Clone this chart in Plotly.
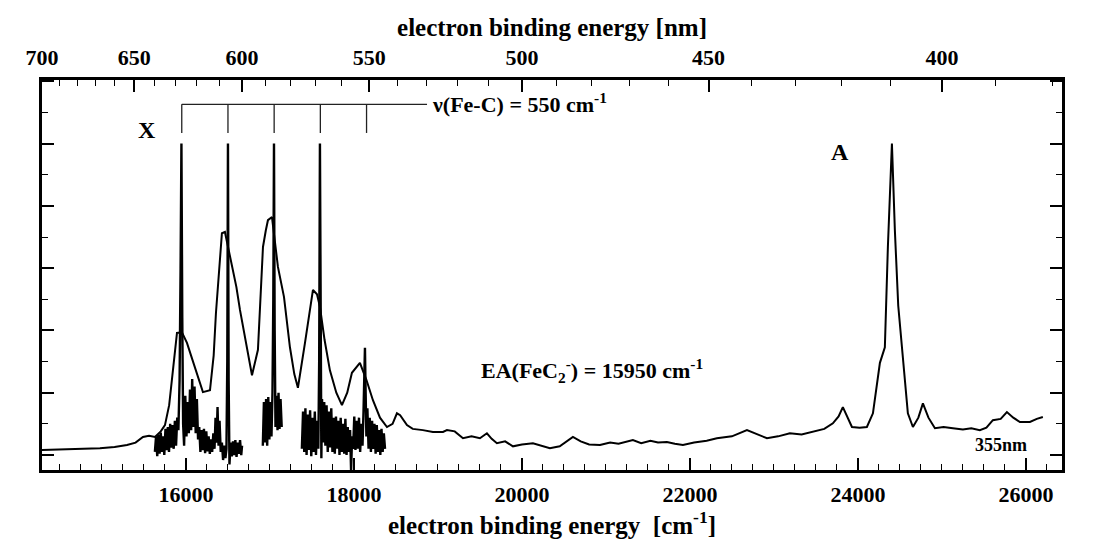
import plotly.graph_objects as go

# ---------------- data ----------------
# broad 355 nm photoelectron spectrum: binding energy [cm^-1], intensity [arb.]
broad_x = [14282, 14536, 14760, 14976, 15150, 15298, 15400, 15488, 15560, 15631,
           15700, 15750, 15800, 15833, 15870, 15893, 15952, 16012, 16060, 16107,
           16160, 16202, 16286, 16330, 16357, 16400, 16428, 16464, 16500, 16548,
           16600, 16643, 16720, 16786, 16857, 16917, 16950, 16976, 17024, 17060,
           17095, 17167, 17238, 17290, 17333, 17417, 17470, 17512, 17560, 17595,
           17650, 17714, 17790, 17857, 17920, 17976, 18071, 18150, 18226, 18310,
           18393, 18460, 18512, 18550, 18631, 18700, 18821, 18940, 19060, 19107,
           19200, 19298, 19400, 19500, 19583, 19640, 19702, 19800, 19893, 20000,
           20131, 20240, 20333, 20450, 20607, 20700, 20800, 20929, 21050, 21150,
           21321, 21420, 21530, 21620, 21726, 21820, 21917, 22050, 22200, 22321,
           22500, 22679, 22800, 22917, 23050, 23190, 23330, 23464, 23600, 23702,
           23770, 23821, 23870, 23929, 24020, 24107, 24179, 24262, 24321, 24357,
           24405, 24440, 24480, 24524, 24595, 24655, 24720, 24774, 24840, 24917,
           25020, 25131, 25250, 25350, 25452, 25530, 25607, 25700, 25774, 25850,
           25929, 26048, 26130, 26202]
broad_y = [0.08, 0.09, 0.10, 0.11, 0.13, 0.16, 0.20, 0.29, 0.31, 0.29,
           0.38, 0.48, 0.80, 1.20, 1.60, 1.96, 1.97, 1.80, 1.60, 1.41,
           1.20, 1.01, 1.04, 1.60, 2.28, 3.00, 3.56, 3.58, 3.35, 3.02,
           2.70, 2.33, 1.75, 1.28, 1.69, 3.34, 3.60, 3.77, 3.82, 3.45,
           3.02, 2.54, 1.73, 1.30, 1.08, 1.80, 2.30, 2.65, 2.58, 2.38,
           1.85, 1.36, 1.00, 0.80, 1.00, 1.32, 1.48, 1.20, 0.88, 0.60,
           0.45, 0.50, 0.67, 0.64, 0.48, 0.42, 0.40, 0.37, 0.37, 0.40,
           0.38, 0.27, 0.30, 0.27, 0.35, 0.26, 0.19, 0.22, 0.14, 0.17,
           0.19, 0.15, 0.11, 0.14, 0.29, 0.22, 0.17, 0.16, 0.20, 0.18,
           0.24, 0.19, 0.23, 0.20, 0.21, 0.18, 0.16, 0.20, 0.23, 0.27,
           0.30, 0.40, 0.33, 0.27, 0.30, 0.35, 0.33, 0.37, 0.42, 0.51,
           0.62, 0.77, 0.62, 0.45, 0.44, 0.45, 0.67, 1.48, 1.73, 3.34,
           5.00, 3.61, 2.40, 1.73, 0.67, 0.45, 0.60, 0.83, 0.60, 0.43,
           0.45, 0.43, 0.41, 0.43, 0.40, 0.44, 0.56, 0.58, 0.69, 0.60,
           0.53, 0.53, 0.58, 0.61]

# high-resolution spectra (three scan windows)
hr1_x = [15630, 15644, 15658, 15672, 15686, 15700, 15714, 15728, 15742, 15756,
         15770, 15784, 15798, 15812, 15826, 15840, 15854, 15868, 15882, 15896,
         15910, 15924, 15936, 15946, 15956, 15966, 15978, 15992, 16006, 16020,
         16034, 16048, 16062, 16074, 16088, 16102, 16116, 16130, 16144, 16158,
         16172, 16186, 16200, 16214, 16228, 16242, 16256, 16270, 16284, 16298,
         16312, 16326, 16340, 16352, 16364, 16376, 16388, 16400, 16414, 16428,
         16442, 16456, 16470, 16482, 16492, 16500, 16508, 16518, 16532, 16546,
         16560, 16574, 16588, 16602, 16616, 16630, 16644, 16658, 16668]
hr1_y = [0.05, 0.30, -0.02, 0.33, 0.02, 0.36, 0.05, 0.30, 0.00, 0.42,
         0.08, 0.45, 0.05, 0.50, 0.12, 0.48, 0.10, 0.55, 0.15, 0.60,
         0.40, 1.20, 3.00, 5.00, 2.20, 0.50, 0.15, 0.95, 0.30, 0.85,
         0.35, 1.05, 0.40, 1.22, 0.45, 1.10, 0.35, 0.90, 0.25, 0.45,
         0.05, 0.40, 0.08, 0.42, 0.03, 0.38, 0.06, 0.30, 0.02, 0.25,
         0.05, 0.35, 0.10, 0.60, 0.20, 0.77, 0.15, 0.55, 0.05, 0.20,
         -0.08, 0.15, -0.05, 0.10, 1.50, 5.00, 1.20, -0.15, 0.20, -0.02,
         0.22, 0.00, 0.24, -0.03, 0.20, 0.02, 0.24, 0.00, 0.15]

hr2_x = [16915, 16928, 16941, 16954, 16967, 16980, 16993, 17006, 17018, 17030,
         17040, 17048, 17056, 17066, 17078, 17090, 17102, 17114, 17126, 17140]
hr2_y = [0.15, 0.85, 0.20, 0.90, 0.15, 0.93, 0.25, 0.85, 0.30, 1.00,
         2.50, 5.00, 2.00, 0.45, 0.95, 0.40, 1.00, 0.42, 0.90, 0.45]

hr3_x = [17380, 17394, 17408, 17422, 17436, 17450, 17464, 17478, 17492, 17506,
         17520, 17534, 17548, 17562, 17576, 17586, 17595, 17604, 17612, 17620,
         17632, 17646, 17660, 17674, 17688, 17702, 17716, 17730, 17744, 17758,
         17772, 17786, 17800, 17814, 17828, 17842, 17856, 17870, 17884, 17898,
         17912, 17926, 17940, 17954, 17966, 17978, 17990, 18004, 18018, 18032,
         18046, 18060, 18074, 18088, 18102, 18114, 18124, 18131, 18138, 18148,
         18160, 18174, 18188, 18202, 18216, 18230, 18244, 18258, 18272, 18286,
         18300, 18314, 18328, 18342, 18356, 18370]
hr3_y = [0.10, 0.70, 0.05, 0.75, 0.00, 0.65, 0.08, 0.72, -0.02, 0.60,
         0.05, 0.70, 0.00, 0.55, 0.10, 1.50, 5.00, 1.00, -0.05, 0.90,
         0.20, 0.85, 0.15, 0.80, 0.05, 0.70, 0.12, 0.75, 0.05, 0.60,
         0.02, 0.62, 0.10, 0.55, 0.00, 0.60, 0.05, 0.50, 0.02, 0.58,
         0.00, 0.45, 0.05, 0.40, -0.25, 0.30, 0.10, 0.62, 0.08, 0.55,
         0.10, 0.60, 0.05, 0.50, 0.15, 0.70, 1.20, 1.72, 1.10, 0.30,
         0.75, 0.10, 0.60, 0.05, 0.55, 0.10, 0.50, 0.02, 0.48, 0.05,
         0.40, 0.00, 0.42, 0.05, 0.35, 0.10]

# Fe-C vibrational progression (cm^-1)
comb_positions = [15950, 16500, 17050, 17600, 18150]

bottom_ticks = [16000, 18000, 20000, 22000, 24000, 26000]
top_nm_labels = [700, 650, 600, 550, 500, 450, 400]
top_nm_minor = list(range(380, 701, 10))

x_range = [14286, 26430]
y_range = [-0.24, 6.02]

# ---------------- figure ----------------
FONT = "Liberation Serif"
fig = go.Figure()

hr_x = hr1_x + [None] + hr2_x + [None] + hr3_x
hr_y = hr1_y + [None] + hr2_y + [None] + hr3_y

fig.add_trace(go.Scatter(x=broad_x, y=broad_y, mode="lines",
                         line=dict(color="black", width=2), showlegend=False,
                         hoverinfo="skip"))
fig.add_trace(go.Scatter(x=hr_x, y=hr_y, mode="lines",
                         line=dict(color="black", width=2.4), showlegend=False,
                         hoverinfo="skip", connectgaps=False))
# invisible trace to activate top axis
fig.add_trace(go.Scatter(x=x_range, y=[None, None], xaxis="x2", mode="lines",
                         showlegend=False, hoverinfo="skip"))

# comb marking the progression
comb_top, comb_bot, comb_end = 5.63, 5.17, 18870
fig.add_shape(type="line", xref="x", yref="y", x0=comb_positions[0], x1=comb_end,
              y0=comb_top, y1=comb_top, line=dict(color="#222", width=1.3))
for c in comb_positions:
    fig.add_shape(type="line", xref="x", yref="y", x0=c, x1=c,
                  y0=comb_top, y1=comb_bot, line=dict(color="#222", width=1.3))

tf = dict(family=FONT, size=22, color="black", weight="bold")
title_font = dict(family=FONT, size=25, color="black", weight="bold")
fig.update_layout(
    width=1111, height=535,
    margin=dict(l=34, r=57, t=72, b=73),
    paper_bgcolor="white", plot_bgcolor="white",
    xaxis=dict(range=x_range, tickmode="array", tickvals=bottom_ticks,
               ticktext=[str(v) for v in bottom_ticks],
               ticks="inside", ticklen=12, tickwidth=1.5, tickcolor="black",
               minor=dict(dtick=250, tick0=0, ticks="inside", ticklen=6,
                          tickwidth=1.2, tickcolor="black"),
               showline=True, linecolor="black", linewidth=3,
               showgrid=False, zeroline=False, tickfont=tf,
               ticklabelstandoff=3,
               title=dict(text="electron binding energy  [cm<sup>-1</sup>]",
                          font=title_font, standoff=2)),
    xaxis2=dict(range=x_range, overlaying="x", side="top", anchor="y",
                tickmode="array", tickvals=[1e7 / n for n in top_nm_labels],
                ticktext=[str(n) for n in top_nm_labels],
                ticks="inside", ticklen=12, tickwidth=1.5, tickcolor="black",
                minor=dict(tickmode="array", tickvals=[1e7 / n for n in top_nm_minor],
                           ticks="inside", ticklen=6, tickwidth=1.2, tickcolor="black"),
                showline=True, linecolor="black", linewidth=3,
                showgrid=False, zeroline=False, tickfont=tf,
                ticklabelstandoff=3,
                title=dict(text="electron binding energy [nm]",
                           font=title_font, standoff=2)),
    yaxis=dict(range=y_range, tickmode="linear", tick0=0, dtick=1,
               showticklabels=False, ticks="inside", ticklen=12, tickwidth=1.5,
               tickcolor="black",
               minor=dict(dtick=0.5, tick0=0, ticks="inside", ticklen=6,
                          tickwidth=1.2, tickcolor="black"),
               showline=True, linecolor="black", linewidth=3, mirror="ticks",
               showgrid=False, zeroline=False),
)

ann_font = dict(family=FONT, size=22, color="black", weight="bold")
fig.add_annotation(x=15536, y=5.22, text="X", showarrow=False,
                   font=dict(family=FONT, size=24, color="black", weight="bold"))
fig.add_annotation(x=23786, y=4.86, text="A", showarrow=False,
                   font=dict(family=FONT, size=24, color="black", weight="bold"))
fig.add_annotation(x=18905, y=5.65, text="\u03bd(Fe-C) = 550 cm<sup>-1</sup>",
                   showarrow=False, xanchor="left", font=ann_font)
fig.add_annotation(x=20833, y=1.35,
                   text="EA(FeC<sub>2</sub><sup>-</sup>) = 15950 cm<sup>-1</sup>",
                   showarrow=False, font=ann_font)
fig.add_annotation(x=25702, y=0.16, text="355nm", showarrow=False,
                   font=dict(family=FONT, size=18, color="black", weight="bold"))

fig.write_html("out.html")
